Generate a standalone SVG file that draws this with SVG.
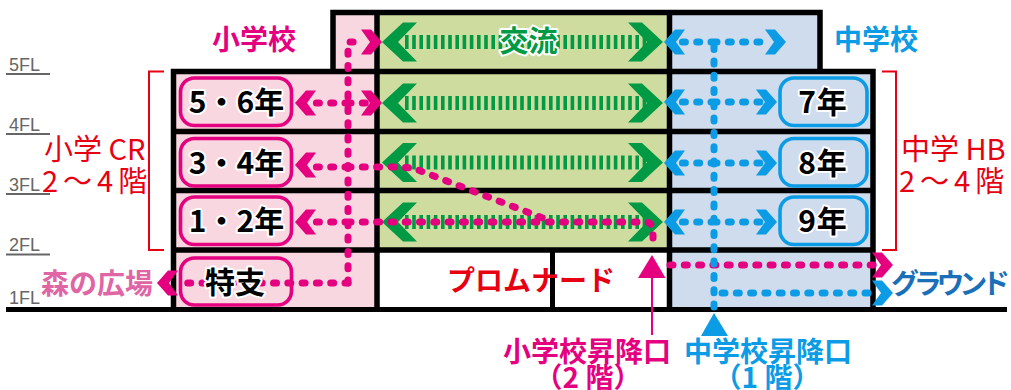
<svg xmlns="http://www.w3.org/2000/svg" xmlns:xlink="http://www.w3.org/1999/xlink" width="1011" height="390" viewBox="0 0 1011 390">
<style>
text{font-family:"Noto Sans CJK JP","Noto Sans",sans-serif}
.wall{stroke:#000;stroke-width:5.5;fill:none}
.fp{fill:#f8d7e0}.fg{fill:#cfdca0}.fb{fill:#cfdcee}
.pill{fill:none;stroke-width:3.6}
.pp{stroke:#e4007f}.pb{stroke:#0c9ce6}
.yr{font-size:30px;font-weight:700;fill:#000;stroke:#fff;stroke-width:4;paint-order:stroke;stroke-linejoin:round;text-anchor:middle}
.lab{font-size:28px;font-weight:700}
.red{font-size:29px;font-weight:400;fill:#e60012}
.fl{font-family:"Liberation Sans",sans-serif;font-size:18px;fill:#666}
.flu{stroke:#666;stroke-width:2}
.gd{fill:none;stroke:#009a44;stroke-width:14;stroke-dasharray:3.6 3.6}
.dp{fill:none;stroke:#e4007f;stroke-width:7;stroke-linecap:round;stroke-linejoin:round;stroke-dasharray:3 11.300}
.db{fill:none;stroke:#0c9ce6;stroke-width:7;stroke-linecap:round;stroke-linejoin:round;stroke-dasharray:3 11.300}
.br{fill:none;stroke:#e60012;stroke-width:2}
</style>
<defs>
<polygon id="ch" points="0,0 11,-12.500 21,-12.500 12,0 21,12.500 11,12.500"/>
<polygon id="chg" points="0,0 21,-19.500 35,-19.500 16,0 35,19.500 21,19.500"/>
</defs>

<g id="building">
<rect class="fp" x="333" y="12" width="44" height="60"/>
<rect class="fg" x="377" y="12" width="292" height="60"/>
<rect class="fb" x="669" y="12" width="151" height="60"/>
<rect class="fp" x="173" y="72" width="204" height="238"/>
<rect class="fg" x="377" y="72" width="292" height="178"/>
<rect class="fb" x="669" y="72" width="204" height="238"/>
<path class="wall" d="M333 72V12.500H820V72M173.500 310V71.500H873V310M173 131.500H873M173 190.500H873M173 250H873M377 12V310M669.500 12V310"/>
<path d="M552.500 250V310" stroke="#000" stroke-width="5" fill="none"/>
<path d="M6 309.500H1007" stroke="#000" stroke-width="5" fill="none"/>
</g>

<g id="floor-labels">
<text class="fl" x="9" y="71">5FL</text><path class="flu" d="M6 74H50"/>
<text class="fl" x="9" y="131">4FL</text><path class="flu" d="M6 134H50"/>
<text class="fl" x="9" y="191">3FL</text><path class="flu" d="M6 194H50"/>
<text class="fl" x="9" y="251">2FL</text><path class="flu" d="M6 254.500H50"/>
<text class="fl" x="9" y="304">1FL</text>
</g>

<g id="connectors">
<g id="exchange-green" fill="#009a44">
<path class="gd" d="M405 42H646M405 103H646M405 162.500H646M405 222H646"/>
<use xlink:href="#chg" href="#chg" transform="translate(382,42)"/>
<use xlink:href="#chg" href="#chg" transform="translate(382,103)"/>
<use xlink:href="#chg" href="#chg" transform="translate(382,162.500)"/>
<use xlink:href="#chg" href="#chg" transform="translate(382,222)"/>
<use xlink:href="#chg" href="#chg" transform="translate(663,42) scale(-1,1)"/>
<use xlink:href="#chg" href="#chg" transform="translate(663,103) scale(-1,1)"/>
<use xlink:href="#chg" href="#chg" transform="translate(663,162.500) scale(-1,1)"/>
<use xlink:href="#chg" href="#chg" transform="translate(663,222) scale(-1,1)"/>
</g>
<g id="pink-routes" fill="#e4007f">
<path class="dp" d="M348 283V42H364"/>
<path class="dp" d="M348 103H312M348 103H368"/>
<path class="dp" d="M348 167H312M348 167H385Q400 167 413 168L548 220"/>
<path class="dp" d="M348 222H312M348 222H645Q653 222 653 232V247"/>
<path class="dp" d="M348 283H178"/>
<path class="dp" d="M670 265H875"/>
<use xlink:href="#ch" href="#ch" transform="translate(382,42) scale(-1,1)"/>
<use xlink:href="#ch" href="#ch" transform="translate(382,103) scale(-1,1)"/>
<use xlink:href="#ch" href="#ch" transform="translate(295,103)"/>
<use xlink:href="#ch" href="#ch" transform="translate(295,165)"/>
<use xlink:href="#ch" href="#ch" transform="translate(295,222)"/>
<use xlink:href="#ch" href="#ch" transform="translate(157,283)"/>
<use xlink:href="#ch" href="#ch" transform="translate(893,265) scale(-1,1)"/>
<polygon points="652,255 638,278 665.500,278"/>
<path d="M652 278V335" stroke="#e4007f" stroke-width="2" fill="none"/>
</g>
<g id="blue-routes" fill="#0c9ce6">
<path class="db" d="M714 307V42M714 42H682M714 42H770"/>
<path class="db" d="M714 102H682M714 102H760"/>
<path class="db" d="M714 163H682M714 163H760"/>
<path class="db" d="M714 222H682M714 222H760"/>
<path class="db" d="M722 293H875"/>
<use xlink:href="#ch" href="#ch" transform="translate(664,42)"/>
<use xlink:href="#ch" href="#ch" transform="translate(664,102)"/>
<use xlink:href="#ch" href="#ch" transform="translate(664,163)"/>
<use xlink:href="#ch" href="#ch" transform="translate(664,222)"/>
<use xlink:href="#ch" href="#ch" transform="translate(786,42) scale(-1,1)"/>
<use xlink:href="#ch" href="#ch" transform="translate(777,102) scale(-1,1)"/>
<use xlink:href="#ch" href="#ch" transform="translate(777,163) scale(-1,1)"/>
<use xlink:href="#ch" href="#ch" transform="translate(777,222) scale(-1,1)"/>
<use xlink:href="#ch" href="#ch" transform="translate(893,293) scale(-1,1)"/>
<polygon points="714,313 701,336 728,336"/>
</g>
</g>

<g id="grade-5-6"><rect class="pill pp" x="180.500" y="78" width="111" height="47.500" rx="14"/><text class="yr" x="236.500" y="113">5・6年</text></g>
<g id="grade-3-4"><rect class="pill pp" x="180.500" y="138.500" width="111" height="47.500" rx="14"/><text class="yr" x="236.500" y="174">3・4年</text></g>
<g id="grade-1-2"><rect class="pill pp" x="180.500" y="197" width="111" height="47.500" rx="14"/><text class="yr" x="236.500" y="232">1・2年</text></g>
<g id="special"><rect class="pill pp" x="180.500" y="258" width="111" height="47" rx="14"/><text class="yr" x="235" y="293">特支</text></g>
<g id="grade-7"><rect class="pill pb" x="780" y="78" width="87" height="47.500" rx="14"/><text class="yr" x="823" y="113" letter-spacing="1">7年</text></g>
<g id="grade-8"><rect class="pill pb" x="780" y="138.500" width="87" height="47.500" rx="14"/><text class="yr" x="823" y="174" letter-spacing="1">8年</text></g>
<g id="grade-9"><rect class="pill pb" x="780" y="197" width="87" height="47.500" rx="14"/><text class="yr" x="823" y="232" letter-spacing="1">9年</text></g>

<g id="exchange-label"><text x="528.500" y="52" font-size="29" font-weight="700" fill="#009a44" stroke="#fff" stroke-width="4" paint-order="stroke" stroke-linejoin="round" text-anchor="middle">交流</text></g>

<g id="labels">
<text class="lab" x="212" y="50" fill="#e4007f">小学校</text>
<text class="lab" x="834" y="50" fill="#0c9ce6">中学校</text>
<text class="lab" x="41" y="294" fill="#e065a5">森の広場</text>
<text class="lab" x="891" y="294" fill="#1a70b8" font-size="24" textLength="119">グラウンド</text>
<text class="lab" x="447" y="291" fill="#e60012">プロムナード</text>
<text class="lab" x="503" y="362" fill="#e4007f">小学校昇降口</text>
<text class="lab" x="684" y="362" fill="#0c9ce6">中学校昇降口</text>
<text class="lab" x="588" y="388" fill="#e4007f" text-anchor="middle">（2 階）</text>
<text class="lab" x="767" y="388" fill="#0c9ce6" text-anchor="middle">（1 階）</text>
<text class="red" x="44" y="160">小学 CR</text>
<text class="red" x="42" y="192" letter-spacing="5">2～4階</text>
<text class="red" x="901" y="160">中学 HB</text>
<text class="red" x="899" y="192" letter-spacing="5">2～4階</text>
</g>

<g id="brackets">
<path class="br" d="M164 71.500H149V250H164"/>
<path class="br" d="M882 71.500H896V250H882"/>
</g>
</svg>
